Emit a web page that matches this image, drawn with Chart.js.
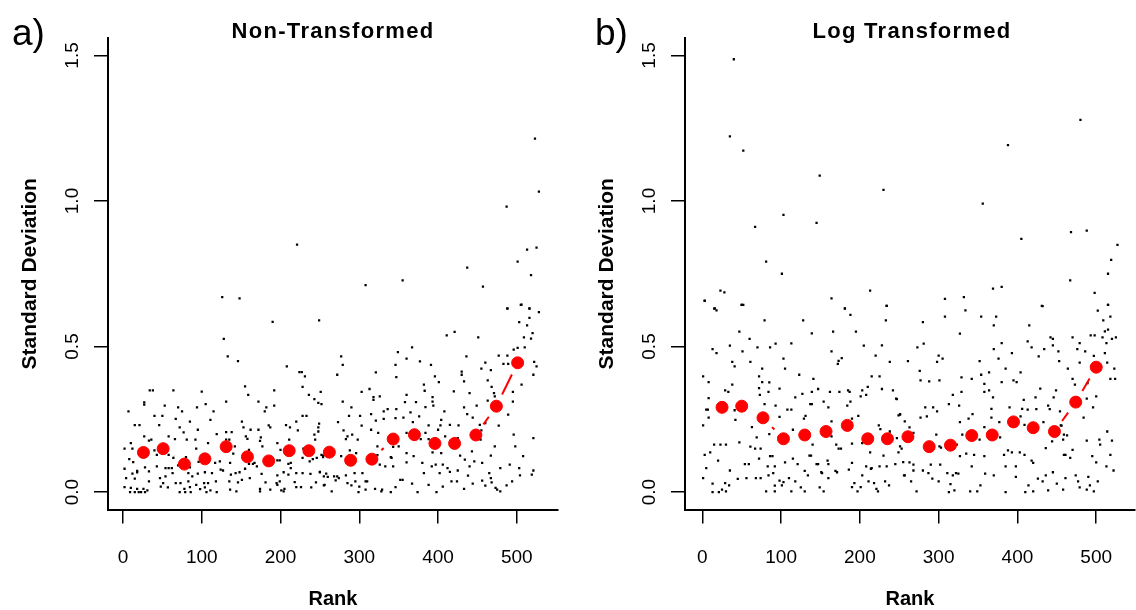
<!DOCTYPE html>
<html>
<head>
<meta charset="utf-8">
<script src="https://cdn.jsdelivr.net/npm/chart.js@4.4.1/dist/chart.umd.min.js"></script>
<style>
  html, body { margin: 0; padding: 0; background: #fff; overflow: hidden; }
  #page { position: relative; width: 1136px; height: 610px; overflow: hidden; font-family: "Liberation Sans", Arial, Helvetica, sans-serif; color: #000; }
  canvas { position: absolute; top: 0; }
  .tag { position: absolute; font-size: 37px; line-height: 36px; }
  .main { position: absolute; width: 400px; text-align: center; font-size: 22px; line-height: 22px; font-weight: bold; letter-spacing: 1.3px; }
</style>
</head>
<body>
<div id="page">
  <canvas id="chartA" width="565" height="610" style="left:0px"></canvas>
  <canvas id="chartB" width="565" height="610" style="left:577px"></canvas>
  <div class="tag" style="left:12px;top:15px">a)</div>
  <div class="tag" style="left:595px;top:15px">b)</div>
  <div class="main" style="left:133px;top:20px">Non-Transformed</div>
  <div class="main" style="left:712px;top:20px">Log Transformed</div>
</div>
<script>
// red points: SD per rank bin
const binRankA = [26, 51, 78, 104, 131, 158, 185, 211, 236, 262, 289, 316, 343, 370, 396, 421, 448, 474, 501];
const binSdA = [0.136, 0.149, 0.096, 0.114, 0.156, 0.121, 0.107, 0.142, 0.142, 0.137, 0.109, 0.113, 0.182, 0.197, 0.167, 0.167, 0.196, 0.295, 0.444];
const binRankB = [25, 50, 77, 103, 130, 157, 184, 210, 235, 261, 288, 315, 342, 368, 395, 420, 447, 474, 500];
const binSdB = [0.291, 0.295, 0.255, 0.183, 0.196, 0.208, 0.229, 0.183, 0.183, 0.190, 0.156, 0.161, 0.194, 0.196, 0.241, 0.221, 0.208, 0.309, 0.429];

// black dots [rank, sd]
const dotsA = [
  [221,0.850],[126,0.670],[148,0.665],
  [523,1.214],[528,1.032],[487,0.981],[525,0.840],[513,0.833],[501,0.792],[437,0.771],[518,0.745],[355,0.727],[308,0.711],[457,0.706],[488,0.631],[506,0.644],[516,0.631],
  [190,0.585],[249,0.590],[128,0.526],[133,0.466],[146,0.450],[208,0.432],[224,0.412],[227,0.412],[231,0.397],
  [155,0.363],[34,0.349],[38,0.349],[64,0.349],[100,0.345],[192,0.349],[159,0.334],[228,0.361],[236,0.334],[243,0.319],[27,0.308],[27,0.300],[53,0.297],[105,0.302],[131,0.311],[172,0.311],[70,0.291],[94,0.291],[182,0.291],[192,0.297],[248,0.306],[7,0.277],[75,0.277],[115,0.277],[180,0.277],
  [40,0.262],[50,0.262],[228,0.262],[233,0.262],[67,0.251],[85,0.242],[111,0.248],[151,0.242],[220,0.242],[15,0.230],[21,0.230],[46,0.230],[72,0.222],[95,0.214],[119,0.199],[131,0.206],[138,0.206],[153,0.222],[162,0.214],[172,0.214],[185,0.229],[187,0.222],[207,0.230],[212,0.222],[248,0.222],[248,0.208],[222,0.212],
  [27,0.191],[36,0.180],[33,0.177],[58,0.191],[66,0.182],[77,0.205],[81,0.180],[92,0.180],[131,0.180],[135,0.180],[156,0.191],[158,0.183],[175,0.188],[174,0.176],[196,0.168],[211,0.180],[244,0.180],[243,0.197],[2,0.149],[10,0.168],[12,0.149],[93,0.149],[108,0.168],[142,0.157],[160,0.145],[177,0.157],[200,0.145],[229,0.149],[40,0.143],[43,0.128],[58,0.128],
  [8,0.113],[13,0.103],[64,0.117],[80,0.120],[98,0.109],[117,0.100],[123,0.105],[136,0.100],[140,0.132],[160,0.097],[165,0.097],[170,0.088],[167,0.100],[196,0.109],[199,0.109],[210,0.097],[213,0.100],[228,0.117],[237,0.105],[241,0.113],[254,0.120],[43,0.088],[54,0.082],[58,0.082],[62,0.082],[70,0.092],[85,0.085],[96,0.104],[155,0.080],[213,0.082],[246,0.117],
  [2,0.080],[18,0.073],[18,0.068],[12,0.063],[28,0.085],[33,0.071],[47,0.048],[54,0.054],[63,0.065],[83,0.065],[88,0.054],[95,0.063],[104,0.068],[113,0.065],[124,0.077],[127,0.074],[137,0.060],[143,0.065],[148,0.068],[161,0.048],[176,0.062],[196,0.057],[204,0.068],[210,0.060],[220,0.065],[228,0.065],[238,0.062],[250,0.069],[4,0.048],[15,0.046],[33,0.037],[51,0.031],[67,0.031],[73,0.031],[83,0.037],[103,0.031],[108,0.031],[118,0.037],[135,0.037],[146,0.033],[151,0.042],[181,0.033],[195,0.031],[199,0.037],[218,0.034],[255,0.054],
  [2,0.017],[10,0.014],[18,0.011],[26,0.011],[31,0.006],[48,0.019],[57,0.016],[78,0.011],[85,0.017],[93,0.025],[98,0.010],[104,0.016],[111,0.006],[119,0.000],[136,0.008],[144,0.002],[174,0.011],[187,0.008],[201,0.006],[205,0.011],[196,0.025],[220,0.017],[226,0.017],[239,0.016],[245,0.033],[256,0.025],[9,0.000],[15,0.000],[20,0.000],[23,0.000],[28,0.000],[72,0.000],[79,0.000],[86,0.000],[106,0.000],[174,0.002],[204,0.002],
  [488,0.630],[505,0.643],[516,0.630],[528,0.618],[516,0.598],[503,0.584],[513,0.573],[520,0.546],[509,0.531],[518,0.527],[411,0.538],[421,0.550],[451,0.531],[501,0.495],[510,0.497],[522,0.447],[525,0.432],[521,0.403],[367,0.497],[349,0.481],[477,0.469],[488,0.469],[496,0.489],[360,0.458],[377,0.449],[277,0.466],[279,0.437],[346,0.437],[391,0.437],[436,0.466],[460,0.445],[483,0.440],[489,0.440],[496,0.437],
  [272,0.403],[321,0.411],[347,0.395],[396,0.397],[430,0.414],[430,0.403],[455,0.424],[467,0.419],[463,0.384],[401,0.378],[433,0.380],[382,0.369],[468,0.361],[471,0.340],[495,0.344],[506,0.369],[251,0.344],[303,0.344],[313,0.354],[360,0.334],[383,0.348],[393,0.326],[420,0.346],[440,0.340],[472,0.329],[318,0.326],[326,0.329],[318,0.317],[279,0.311],[393,0.311],[372,0.309],[358,0.309],[252,0.302],[290,0.291],[336,0.285],[347,0.285],[384,0.292],[394,0.297],[408,0.277],[433,0.291],[449,0.297],[463,0.314],[479,0.294],[495,0.311],
  [301,0.262],[331,0.277],[315,0.268],[287,0.262],[346,0.254],[356,0.256],[376,0.260],[365,0.274],[404,0.248],[437,0.268],[444,0.256],[489,0.266],[249,0.235],[273,0.240],[321,0.245],[331,0.251],[368,0.240],[388,0.229],[403,0.229],[426,0.229],[453,0.231],[460,0.237],[477,0.228],[280,0.212],[303,0.228],[315,0.214],[324,0.203],[360,0.203],[384,0.203],[400,0.214],[415,0.231],[455,0.212],[496,0.197],[521,0.185],
  [285,0.191],[291,0.197],[283,0.182],[298,0.180],[323,0.157],[350,0.157],[343,0.155],[378,0.182],[388,0.182],[409,0.191],[425,0.185],[454,0.180],[472,0.157],[498,0.157],[252,0.128],[254,0.125],[277,0.123],[288,0.143],[296,0.134],[323,0.127],[340,0.120],[360,0.134],[369,0.123],[393,0.136],[404,0.134],[428,0.125],[434,0.111],[443,0.140],[467,0.125],[508,0.123],
  [250,0.068],[258,0.063],[260,0.052],[268,0.054],[272,0.054],[274,0.048],[283,0.057],[290,0.094],[294,0.065],[304,0.065],[310,0.037],[308,0.037],[326,0.094],[333,0.088],[341,0.117],[343,0.088],[352,0.042],[355,0.042],[360,0.102],[380,0.100],[382,0.065],[392,0.088],[397,0.094],[402,0.065],[406,0.094],[412,0.082],[415,0.069],[425,0.074],[438,0.056],[440,0.088],[446,0.105],[456,0.100],[465,0.065],[467,0.048],[479,0.082],[491,0.094],[503,0.082],[521,0.074],
  [270,0.040],[285,0.031],[290,0.023],[300,0.019],[299,0.000],[308,0.008],[320,0.011],[328,0.002],[340,0.000],[346,0.017],[367,0.029],[374,0.000],[388,0.025],[398,0.000],[406,0.019],[417,0.037],[424,0.037],[433,0.011],[444,0.029],[456,0.039],[460,0.022],[468,0.033],[473,0.014],[475,0.008],[479,0.002],[487,0.023],[494,0.037],[504,0.057],[519,0.060],[255,0.023],[265,0.002],[295,0.037],[329,0.008]
];

const dotsB = [
  [40,1.487],[35,1.222],[52,1.173],[149,1.087],[230,1.038],[103,0.952],[145,0.925],[67,0.911],[81,0.792],[101,0.750],[23,0.692],[28,0.686],[3,0.658],[16,0.631],[50,0.643],[164,0.665],[181,0.631],[213,0.692],[234,0.640],
  [480,1.279],[388,1.192],[356,0.991],[468,0.893],[488,0.898],[405,0.870],[527,0.849],[519,0.798],[515,0.750],[467,0.727],[498,0.684],[380,0.705],[369,0.699],[332,0.670],[308,0.664],[432,0.639],[515,0.643],
  [3,0.657],[15,0.630],[18,0.624],[50,0.643],[52,0.643],[181,0.630],[188,0.609],[234,0.640],[79,0.590],[128,0.590],[233,0.590],[47,0.551],[139,0.545],[166,0.551],[195,0.551],[60,0.526],[35,0.503],[86,0.497],[93,0.510],[70,0.497],[113,0.511],[228,0.504],[205,0.503],[13,0.491],[18,0.477],[51,0.483],[164,0.483],[220,0.469],[238,0.447],[103,0.458],[38,0.447],[61,0.447],[173,0.451],[177,0.460],[172,0.440],[41,0.432],[76,0.424],[105,0.424],[123,0.403],[141,0.389],
  [1,0.397],[8,0.378],[72,0.397],[76,0.378],[215,0.397],[225,0.397],[38,0.369],[85,0.377],[72,0.357],[210,0.361],[29,0.349],[33,0.344],[73,0.334],[84,0.344],[98,0.355],[118,0.325],[127,0.337],[139,0.344],[147,0.354],[162,0.344],[174,0.344],[185,0.349],[187,0.344],[203,0.349],[201,0.329],[208,0.334],[228,0.354],[242,0.349],[246,0.321],
  [8,0.323],[7,0.283],[5,0.283],[41,0.281],[79,0.302],[93,0.297],[108,0.283],[113,0.283],[137,0.302],[139,0.302],[154,0.311],[160,0.291],[188,0.311],[184,0.297],[98,0.258],[129,0.252],[131,0.262],[190,0.252],[198,0.262],[249,0.263],[251,0.268],[8,0.256],[42,0.248],[1,0.229],[63,0.223],[115,0.214],[164,0.243],[224,0.229],[226,0.216],[238,0.208],
  [164,0.191],[69,0.188],[85,0.199],[47,0.171],[15,0.163],[23,0.163],[30,0.163],[61,0.156],[67,0.149],[74,0.149],[97,0.188],[140,0.163],[170,0.163],[173,0.149],[176,0.149],[190,0.166],[203,0.168],[213,0.136],[230,0.125],[249,0.136],[253,0.149],[3,0.128],[10,0.136],[20,0.108],
  [54,0.096],[59,0.096],[72,0.115],[83,0.088],[86,0.123],[89,0.123],[92,0.088],[105,0.102],[115,0.115],[121,0.096],[136,0.125],[138,0.125],[145,0.096],[147,0.096],[159,0.108],[160,0.096],[151,0.068],[169,0.073],[171,0.068],[186,0.077],[190,0.100],[208,0.088],[215,0.082],[225,0.088],[234,0.088],[245,0.096],[257,0.057],[5,0.082],[35,0.074],
  [1,0.048],[45,0.045],[56,0.048],[68,0.048],[74,0.048],[84,0.057],[90,0.065],[98,0.039],[103,0.034],[110,0.048],[118,0.037],[130,0.073],[134,0.057],[152,0.065],[160,0.048],[203,0.057],[214,0.080],[232,0.037],[13,0.029],[29,0.031],[34,0.023],[92,0.022],[101,0.023],[113,0.002],[125,0.016],[130,0.002],[149,0.016],[154,0.002],[190,0.017],[193,0.031],[197,0.002],[201,0.017],[211,0.037],[218,0.031],[221,0.011],[223,0.002],[237,0.023],[13,0.000],[21,0.000],[25,0.008],[30,0.002],[81,0.002],[92,0.002],
  [431,0.640],[515,0.643],[502,0.623],[518,0.603],[308,0.603],[334,0.624],[354,0.603],[373,0.603],[280,0.584],[509,0.590],[370,0.573],[415,0.573],[511,0.552],[515,0.558],[327,0.544],[442,0.531],[445,0.526],[470,0.531],[493,0.538],[498,0.538],[508,0.531],[520,0.526],[525,0.531],[281,0.510],[380,0.512],[413,0.518],[418,0.497],[434,0.491],[445,0.504],[479,0.512],[513,0.512],[273,0.497],[370,0.491],[393,0.477],[452,0.483],[476,0.491],[486,0.483],[497,0.468],[511,0.477],
  [300,0.469],[298,0.447],[305,0.458],[261,0.450],[352,0.450],[376,0.458],[427,0.466],[453,0.450],[479,0.445],[514,0.445],[276,0.416],[385,0.424],[464,0.424],[523,0.424],[288,0.380],[301,0.384],[277,0.384],[329,0.394],[342,0.389],[354,0.403],[364,0.411],[380,0.378],[395,0.384],[399,0.378],[404,0.411],[429,0.355],[449,0.349],[358,0.372],[358,0.344],[364,0.349],[329,0.344],[318,0.334],[369,0.325],[408,0.317],[423,0.325],[446,0.325],[470,0.389],[473,0.369],[489,0.374],[500,0.329],[518,0.389],[524,0.389],
  [247,0.319],[251,0.266],[283,0.291],[293,0.291],[298,0.277],[313,0.302],[326,0.297],[343,0.268],[367,0.286],[367,0.256],[390,0.291],[406,0.286],[413,0.283],[424,0.285],[439,0.297],[441,0.285],[454,0.277],[484,0.256],[488,0.321],[496,0.291],[277,0.256],[285,0.260],[327,0.240],[338,0.252],[358,0.223],[377,0.240],[404,0.260],[409,0.231],[433,0.240],[455,0.229],[514,0.208],[504,0.180],
  [257,0.243],[263,0.222],[268,0.203],[247,0.185],[251,0.157],[297,0.197],[301,0.157],[303,0.153],[330,0.197],[352,0.180],[378,0.188],[388,0.143],[393,0.136],[403,0.136],[436,0.151],[444,0.174],[456,0.228],[459,0.197],[463,0.195],[458,0.180],[470,0.145],[461,0.128],[488,0.177],[505,0.163],[520,0.177],[518,0.128],
  [323,0.163],[327,0.123],[335,0.132],[345,0.128],[358,0.123],[383,0.128],[409,0.128],[418,0.108],[420,0.100],[445,0.068],[459,0.128],[467,0.117],[495,0.123],[500,0.102],[513,0.088],[522,0.074],[255,0.103],[263,0.102],[268,0.094],[268,0.074],[280,0.074],[287,0.065],[290,0.094],[302,0.094],[311,0.065],[318,0.057],[322,0.065],[325,0.063],
  [256,0.057],[265,0.037],[292,0.046],[300,0.037],[315,0.027],[320,0.006],[342,0.088],[359,0.063],[370,0.057],[385,0.088],[398,0.088],[398,0.052],[414,0.023],[426,0.046],[432,0.037],[436,0.057],[450,0.029],[461,0.048],[474,0.057],[477,0.037],[490,0.052],[502,0.037],
  [272,0.002],[313,0.000],[340,0.002],[349,0.002],[353,0.023],[385,0.000],[410,0.000],[420,0.002],[439,0.006],[458,0.008],[479,0.016],[488,0.008],[492,0.023],[497,0.002]
];

const xTicks = [0, 100, 200, 300, 400, 500];
const yTicks = [0, 0.5, 1.0, 1.5];
const yTickLabels = ["0.0", "0.5", "1.0", "1.5"];

const FONT = "'Liberation Sans', Arial, Helvetica, sans-serif";
const GAP = 13; // line stops short of each red point, like R type="b"

const gapDash = (ctx) => {
  const len = Math.hypot(ctx.p1.x - ctx.p0.x, ctx.p1.y - ctx.p0.y);
  if (len <= 2 * GAP) return [0, len + 50];
  return [0, GAP, len - 2 * GAP, GAP + 50];
};

const makeChart = (id, binRank, binSd, dots, xMin, xMax) => {
  return new Chart(document.getElementById(id), {
    type: "scatter",
    data: {
      datasets: [
        {
          data: binRank.map((r, i) => ({ x: r, y: binSd[i] })),
          showLine: true,
          fill: false,
          borderColor: "#ff0000",
          borderWidth: 2,
          pointRadius: 6,
          pointBackgroundColor: "#ff0000",
          pointBorderColor: "#ff0000",
          pointBorderWidth: 1,
          segment: { borderDash: gapDash },
        },
        {
          data: dots.map((d) => ({ x: d[0], y: d[1] })),
          pointStyle: "rect",
          pointRadius: 1.6,
          pointBackgroundColor: "#000",
          pointBorderWidth: 0,
        },
      ],
    },
    options: {
      responsive: false,
      animation: false,
      events: [],
      layout: { padding: { top: 38, left: 0, right: 0, bottom: 0 } },
      plugins: {
        legend: { display: false },
        tooltip: { enabled: false },
        title: { display: false },
      },
      scales: {
        x: {
          type: "linear",
          min: xMin,
          max: xMax,
          afterBuildTicks: (s) => { s.ticks = xTicks.map((v) => ({ value: v })); },
          afterFit: (s) => { s.height = 100.5; },
          grid: { drawOnChartArea: false, drawTicks: true, tickLength: 14, color: "#000", lineWidth: 1.5 },
          border: { display: true, color: "#000", width: 2 },
          ticks: { color: "#000", font: { family: FONT, size: 19 }, padding: 23, autoSkip: false, maxRotation: 0 },
          title: { display: true, text: "Rank", color: "#000", font: { family: FONT, size: 20, weight: "bold", lineHeight: 1 }, padding: { top: 0, bottom: 1 } },
        },
        y: {
          type: "linear",
          min: -0.06,
          max: 1.56,
          afterBuildTicks: (s) => { s.ticks = yTicks.map((v) => ({ value: v })); },
          afterFit: (s) => { s.width = 108; },
          grid: { drawOnChartArea: false, drawTicks: true, tickLength: 14, color: "#000", lineWidth: 1.5 },
          border: { display: true, color: "#000", width: 2 },
          ticks: {
            color: "#000",
            font: { family: FONT, size: 19 },
            padding: 8,
            autoSkip: false,
            minRotation: 90,
            maxRotation: 90,
            crossAlign: "center",
            callback: (v) => yTickLabels[yTicks.indexOf(v)],
          },
          title: { display: true, text: "Standard Deviation", color: "#000", font: { family: FONT, size: 21, weight: "bold", lineHeight: 1 }, padding: { top: 19.5, bottom: 0 } },
        },
      },
    },
  });
};

const chartA = makeChart("chartA", binRankA, binSdA, dotsA, -19, 552.25);
const chartB = makeChart("chartB", binRankB, binSdB, dotsB, -22, 549.25);
</script>
</body>
</html>
